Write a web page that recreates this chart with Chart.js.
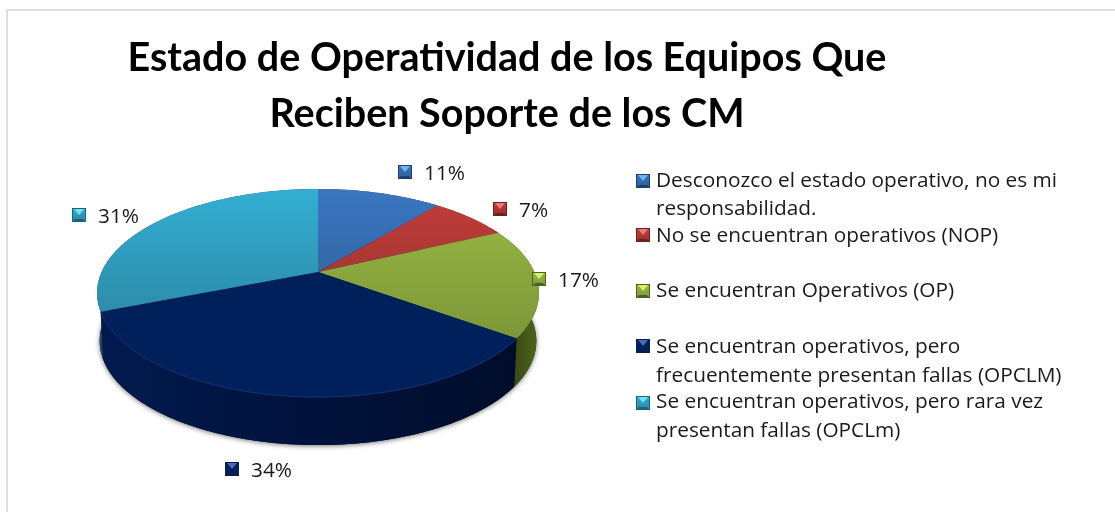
<!DOCTYPE html>
<html lang="es"><head><meta charset="utf-8">
<script src="https://cdn.jsdelivr.net/npm/chart.js@4/dist/chart.umd.min.js"></script>
<style>html,body{margin:0;padding:0;background:#fff}canvas{display:block}</style>
</head><body><canvas id="c" width="1115" height="512"></canvas>
<script>
const titleLines = ['Estado de Operatividad de los Equipos Que', 'Reciben Soporte de los CM'];
const categories = ['Desconozco el estado operativo, no es mi responsabilidad.','No se encuentran operativos (NOP)','Se encuentran Operativos (OP)','Se encuentran operativos, pero frecuentemente presentan fallas (OPCLM)','Se encuentran operativos, pero rara vez presentan fallas (OPCLm)'];
const values = [11, 7, 17, 34, 31];
const legendLines = [['Desconozco el estado operativo, no es mi','responsabilidad.'],['No se encuentran operativos (NOP)'],['Se encuentran Operativos (OP)'],['Se encuentran operativos, pero','frecuentemente presentan fallas (OPCLM)'],['Se encuentran operativos, pero rara vez','presentan fallas (OPCLm)']];

const baseColors = ['#3a76c2','#c23d3a','#9bbb45','#00205c','#33aed2'];
const lowColors  = ['#2f5c90','#96302e','#7a9638','#00205c','#2b84a0'];
const sideLight  = ['#24497a','#7a2624','#364413','#021a4e','#24465a'];
const sideDark   = ['#1b3760','#5c1c1b','#4d6119','#000b28','#24465a'];
const bevelLight = ['#6fb6f5','#ee7a76','#d9f06a','#4a6ab8','#6fe2f8'];
const bevelDark  = ['#1d4070','#6e1f1e','#4c6020','#0a1d50','#1c6278'];

const PIE = {cx:318, cy:272, a:216.4, b:99.8, k:0.202, depth:48, shrink:0.988};
const labelAnchors = [[398,165],[493,202],[532,272],[225,462],[72,208]];
const labelTextGap = 26;
const legendAnchors = [[636,174],[636,228],[636,284],[636,339],[636,396]];
const legendBaselines = [[187,215],[242],[297],[353,382],[408,437]];
const legendTextX = 656;
const TITLE_FONT = 'Lato, sans-serif';
const BODY_FONT = '"Open Sans", sans-serif';
const BODY_SIZE = 20.8;

function project(theta, r, drop){
  const X = Math.cos(theta)*r, Y = Math.sin(theta)*r, d = 1 - PIE.k*Y;
  const s = drop ? PIE.shrink : 1;
  return [PIE.cx + s*PIE.a*X/d, PIE.cy + PIE.b*Y/d + (drop ? PIE.depth : 0)];
}
function rim(ctx, a0, a1, drop, first){
  const n = Math.max(4, Math.ceil(Math.abs(a1-a0)/0.01));
  for(let i=0;i<=n;i++){
    const p = project(a0+(a1-a0)*i/n, 1, drop);
    if(i===0 && first) ctx.moveTo(p[0],p[1]); else ctx.lineTo(p[0],p[1]);
  }
}
function bevel(ctx,x,y,s,i){
  const inset = 4;
  const g=ctx.createLinearGradient(0,y,0,y+s);
  g.addColorStop(0,baseColors[i]); g.addColorStop(1,lowColors[i]);
  ctx.fillStyle = g; ctx.fillRect(x,y,s,s);
  const poly=(pts,c)=>{ctx.fillStyle=c;ctx.beginPath();pts.forEach((p,j)=>j?ctx.lineTo(p[0],p[1]):ctx.moveTo(p[0],p[1]));ctx.closePath();ctx.fill();};
  const cx=x+s/2, cyT=y+s/2;
  poly([[x+2,y+1],[x+s-2,y+1],[cx,cyT]],bevelLight[i]);
  poly([[x+1,y+s],[x+s-1,y+s],[x+s-inset+1,y+s-inset+1],[x+inset-1,y+s-inset+1]],bevelDark[i]);
  ctx.strokeStyle=bevelDark[i];ctx.lineWidth=1;ctx.strokeRect(x+.5,y+.5,s-1,s-1);
}
const pie3d = {
  id:'pie3d',
  beforeDraw(chart){
    const ctx=chart.ctx; ctx.save();
    ctx.fillStyle='#fff'; ctx.fillRect(0,0,chart.width,chart.height);
    ctx.fillStyle='#e0e0e0';
    ctx.fillRect(6,9,1109,2); ctx.fillRect(6,9,2,503);
    ctx.restore();
  },
  beforeDatasetDraw(chart,args){
    const ctx=chart.ctx, arcs=args.meta.data;
    ctx.save();
    ctx.shadowColor='rgba(0,0,0,.55)'; ctx.shadowBlur=5; ctx.shadowOffsetY=1;
    ctx.fillStyle='#000b28'; ctx.beginPath(); rim(ctx,0,Math.PI*2,true,true); ctx.closePath(); ctx.fill();
    ctx.restore();
    for(let i=arcs.length-1;i>=0;i--){
      const arc=arcs[i];
      const grad=ctx.createLinearGradient(i===2?510:PIE.cx-PIE.a,0,PIE.cx+PIE.a,0);
      grad.addColorStop(0,sideLight[i]); grad.addColorStop(1,sideDark[i]);
      ctx.fillStyle=grad; ctx.beginPath();
      rim(ctx,arc.startAngle,arc.endAngle,false,true);
      rim(ctx,arc.endAngle,arc.startAngle,true,false);
      ctx.closePath(); ctx.fill();
    }
    arcs.forEach((arc,i)=>{
      arc.draw=function(c){
        const g=c.createLinearGradient(0,189,0,345);
        g.addColorStop(0,baseColors[i]); g.addColorStop(1,lowColors[i]);
        c.save(); c.fillStyle=g; c.beginPath(); c.moveTo(PIE.cx,PIE.cy);
        rim(c,this.startAngle,this.endAngle,false,false); c.closePath(); c.fill();
        if(i===3){c.strokeStyle='rgba(40,75,150,.55)';c.lineWidth=1;c.beginPath();rim(c,this.startAngle,this.endAngle,false,true);c.stroke();}
        c.restore();
      };
    });
  },
  afterDraw(chart){
    const ctx=chart.ctx; ctx.save();
    ctx.textBaseline='alphabetic'; ctx.textAlign='left';
    const total=values.reduce((s,v)=>s+v,0);
    values.forEach((v,i)=>{
      const [x,y]=labelAnchors[i];
      bevel(ctx,x,y,14,i);
      ctx.fillStyle='#1a1a1a'; ctx.font=BODY_SIZE+'px '+BODY_FONT;
      ctx.fillText(Math.round(v/total*100)+'%',x+labelTextGap,y+15);
    });
    legendLines.forEach((lines,i)=>{
      const [x,y]=legendAnchors[i];
      bevel(ctx,x,y,14,i);
      ctx.fillStyle='#1a1a1a'; ctx.font=BODY_SIZE+'px '+BODY_FONT;
      lines.forEach((t,j)=>ctx.fillText(t,legendTextX,legendBaselines[i][j]));
    });
    ctx.restore();
  }
};
new Chart(document.getElementById('c'),{
  type:'pie',
  data:{labels:categories,datasets:[{data:values,backgroundColor:baseColors,borderWidth:0,clip:false}]},
  options:{
    responsive:false,animation:false,
    layout:{padding:{left:0,right:101,top:0,bottom:0}},
    plugins:{
      legend:{display:false},tooltip:{enabled:false},
      title:{display:true,text:titleLines,fullSize:false,color:'#000',
        font:{family:TITLE_FONT,size:39.5,weight:'bold',lineHeight:1.4},padding:{top:31,bottom:0}}
    }
  },
  plugins:[pie3d]
});
</script></body></html>
